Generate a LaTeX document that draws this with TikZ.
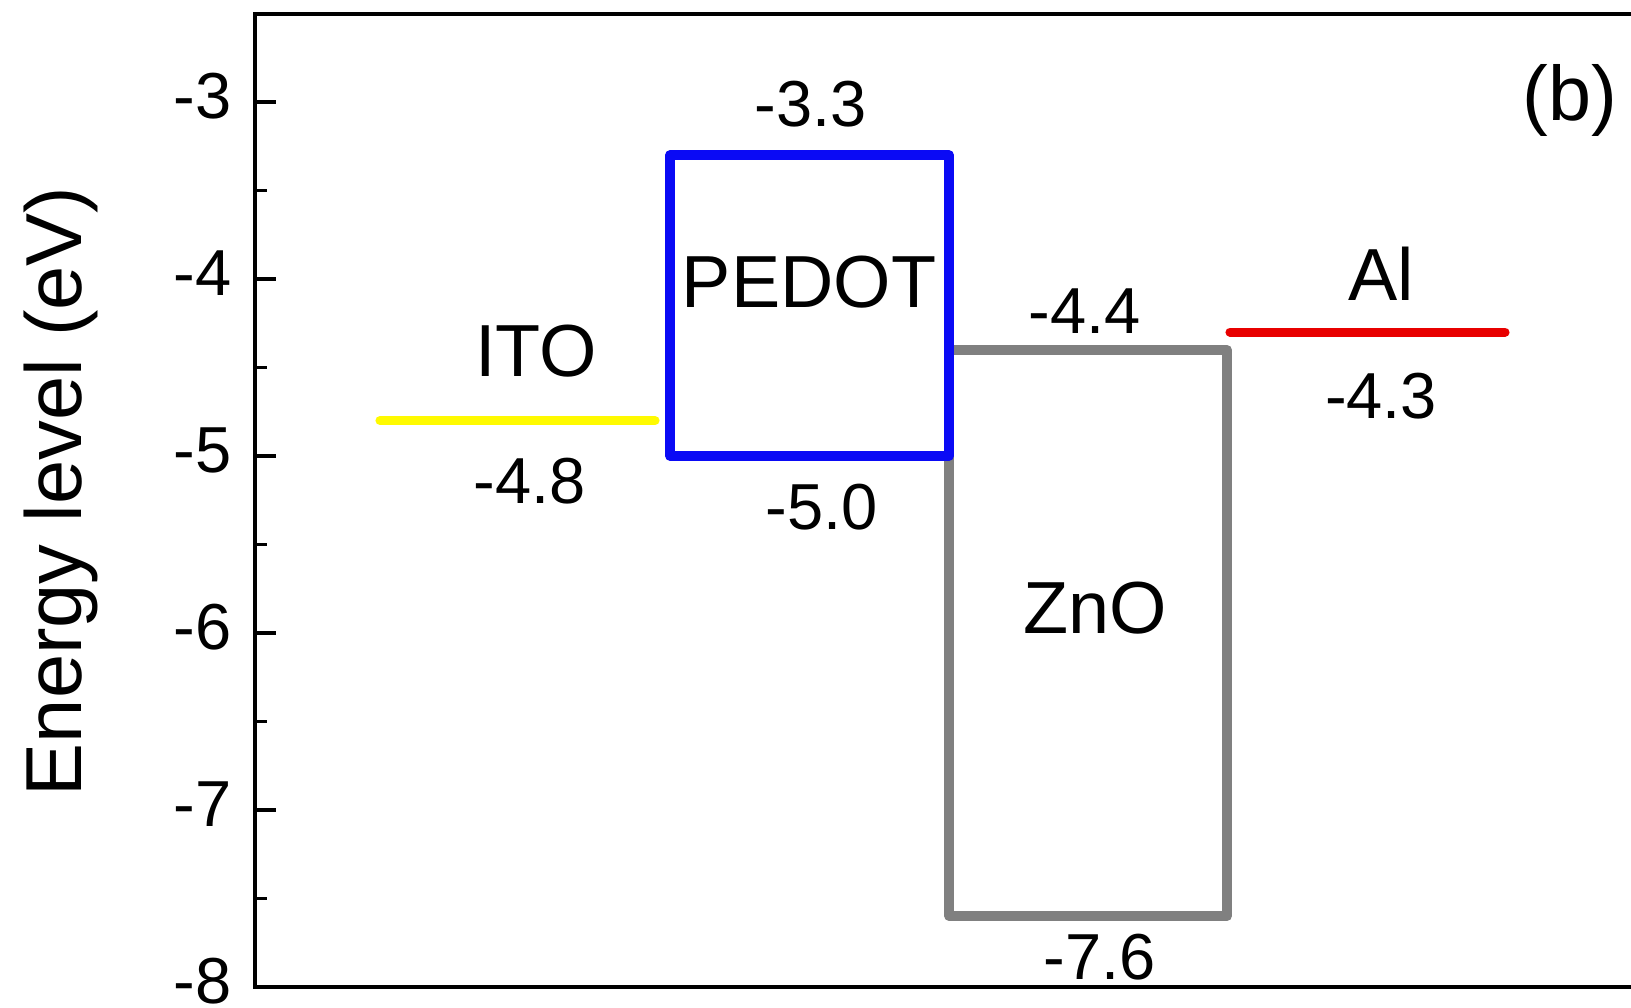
\documentclass[tikz,border=0pt]{standalone}
\usepackage{fontspec}
\setmainfont{Liberation Sans}
\usetikzlibrary{positioning}
\definecolor{itocolor}{RGB}{255,250,0}
\definecolor{pedotcolor}{RGB}{10,10,245}
\definecolor{znocolor}{RGB}{128,128,128}
\definecolor{alcolor}{RGB}{232,0,0}

\begin{document}
\begin{tikzpicture}[
  level/.style={line width=2.6pt,line cap=round},
  band/.style={line width=2.7pt,line join=round},
  matlabel/.style={font=\fontsize{21}{25}\selectfont,inner sep=0pt},
  numlabel/.style={font=\fontsize{18.5}{22}\selectfont,inner sep=0pt},
  ticklabel/.style={font=\fontsize{18.5}{22}\selectfont,inner sep=0pt,anchor=east,yshift=0.055cm}]
  \useasboundingbox (0,0) rectangle (16.31,10.08);
  \begin{scope}[yshift=14.37cm,y=1.77cm]
  % axis frame and ticks
  \draw[line width=1.1pt] (16.31,-2.503) -- (2.55,-2.503) -- (2.55,-8) -- (16.31,-8);
  \foreach \n in {3,...,8} {
    \draw[line width=1.1pt] (2.55,-\n) -- ++(0.21,0);
    \node[ticklabel] (tick\n) at (2.325,-\n) {-\n};
  }
  \foreach \v in {-3.5,-4.5,-5.5,-6.5,-7.5}
    \draw[line width=1.1pt] (2.55,\v) -- ++(0.12,0);
  \node[rotate=90,anchor=base,font=\fontsize{22.6}{27}\selectfont] (ylabel) at (0.82,-5.20) {Energy level (eV)};
  % energy levels
  \draw[band,znocolor] (9.49,-4.4) rectangle (12.27,-7.6);
  \draw[band,pedotcolor] (6.70,-3.3) rectangle (9.49,-5.0);
  \draw[level,itocolor] (3.80,-4.8) -- (6.55,-4.8);
  \draw[level,alcolor] (12.30,-4.3) -- (15.05,-4.3);
  % labels
  \node[numlabel] (pedotlumo) at (8.11,-3.01) {-3.3};
  \node[matlabel] (pedot) at (8.09,-4.02) {PEDOT};
  \node[numlabel] (pedothomo) at (8.22,-5.29) {-5.0};
  \node[matlabel] (ito) at (5.36,-4.41) {ITO};
  \node[numlabel] (itowf) at (5.30,-5.14) {-4.8};
  \node[numlabel] (znocb) at (10.85,-4.18) {-4.4};
  \node[matlabel] (zno) at (10.95,-5.86) {ZnO};
  \node[numlabel] (znovb) at (11.00,-7.83) {-7.6};
  \node[matlabel] (al) at (13.81,-3.97) {Al};
  \node[numlabel] (alwf) at (13.81,-4.66) {-4.3};
  \node[font=\fontsize{22}{26}\selectfont,inner sep=0pt] (panel) at (15.70,-2.99) {(b)};
  \end{scope}
\end{tikzpicture}
\end{document}
